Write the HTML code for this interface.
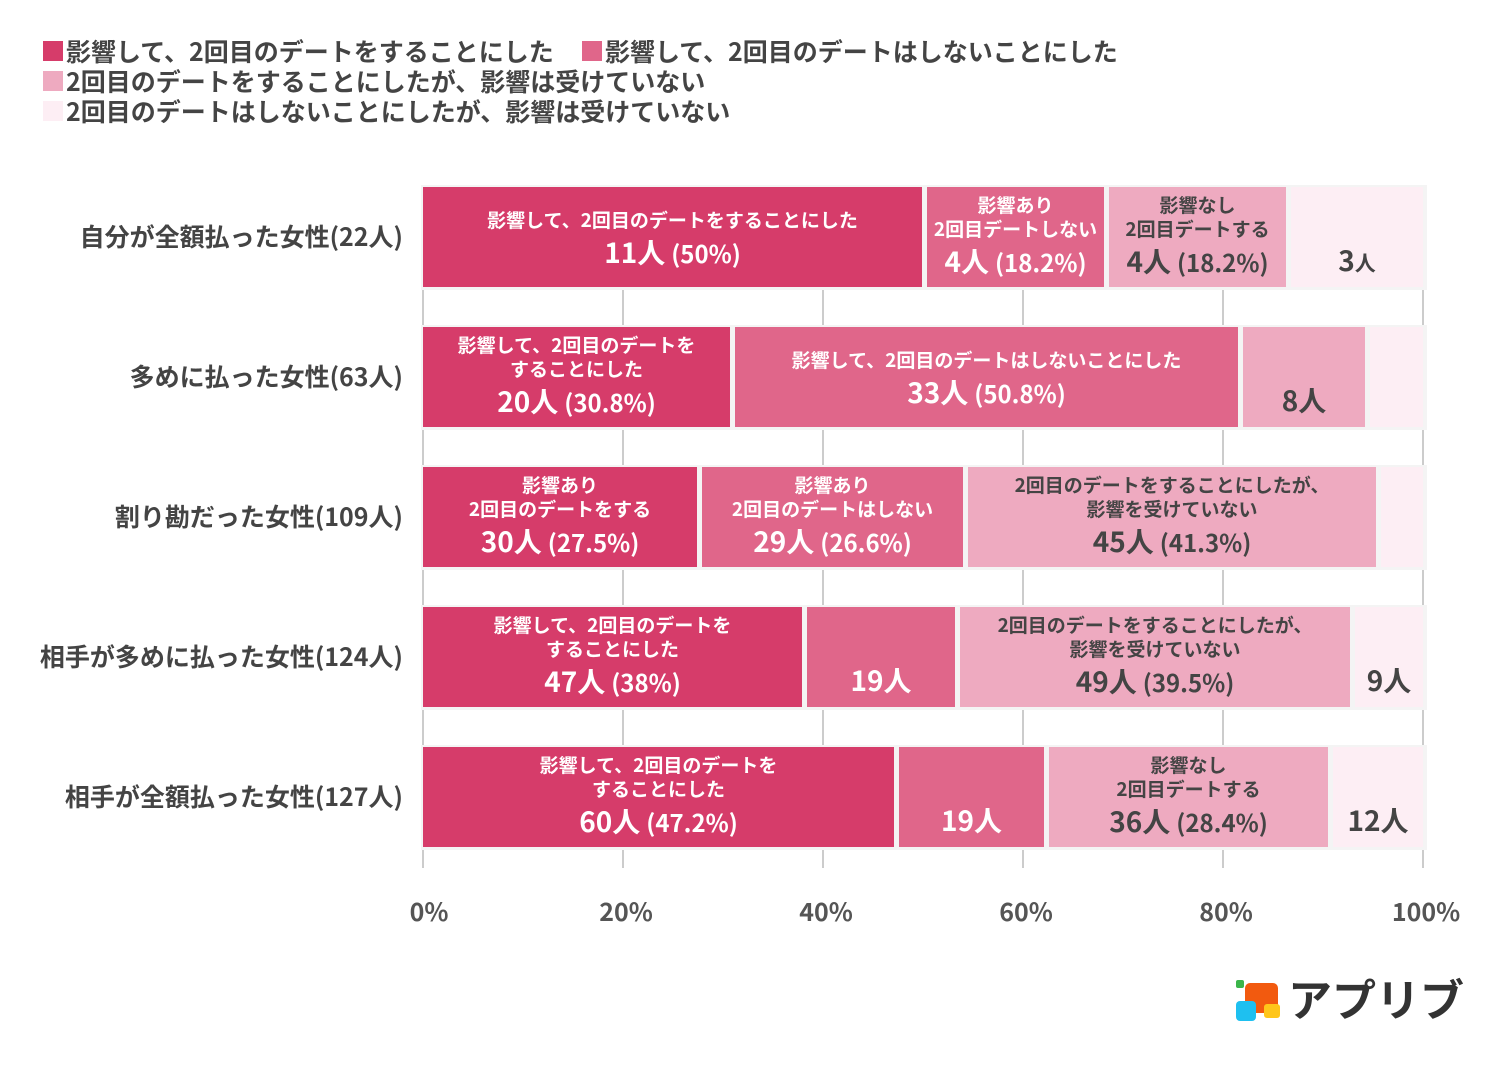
<!DOCTYPE html>
<html><head><meta charset="utf-8">
<style>
body{margin:0;background:#fff;}
svg text{font-family:"Noto Sans CJK JP","Liberation Sans",sans-serif;font-weight:bold;}
</style></head>
<body>
<svg id="chart" width="1508" height="1063" viewBox="0 0 1508 1063" xmlns="http://www.w3.org/2000/svg">
<g>
 <g><rect x="43" y="41" width="20" height="20" fill="#d63c6a"/><text x="66" y="61" font-size="25" fill="#444">影響して、2回目のデートをすることにした</text></g>
 <g><rect x="582" y="41" width="20" height="20" fill="#e0668a"/><text x="605" y="61" font-size="25" fill="#444">影響して、2回目のデートはしないことにした</text></g>
 <g><rect x="43" y="71" width="20" height="20" fill="#eeaac0"/><text x="66" y="91" font-size="25" fill="#444">2回目のデートをすることにしたが、影響は受けていない</text></g>
 <g><rect x="43" y="101" width="20" height="20" fill="#fdeef4"/><text x="66" y="121" font-size="25" fill="#444">2回目のデートはしないことにしたが、影響は受けていない</text></g>
</g>
<g id="grid"></g>
<g id="bars"></g>
<g id="xaxis"></g>
<g>
 <rect x="1236" y="980" width="8" height="8" rx="2" fill="#3bb54a"/>
 <rect x="1245" y="983" width="33" height="30" rx="5" fill="#f25a0f"/>
 <rect x="1236" y="1001" width="20" height="20" rx="4" fill="#1ec0f0"/>
 <rect x="1264" y="1004" width="16" height="14" rx="3" fill="#ffc61a"/>
 <text x="1288" y="1016" font-size="44" fill="#333">アプリブ</text>
</g>
</svg>
<script>
const categories=["自分が全額払った女性(22人)","多めに払った女性(63人)","割り勘だった女性(109人)","相手が多めに払った女性(124人)","相手が全額払った女性(127人)"];
const s1=[50,30.8,27.5,38,47.2];
const s2=[18.2,50.8,26.6,15.3,15.0];
const s3=[18.2,12.7,41.3,39.5,28.4];
const s4=[13.6,5.7,4.6,7.2,9.4];
const ticks=["0%","20%","40%","60%","80%","100%"];
const tickVals=[0,20,40,60,80,100];
const labels=[
 [[["影響して、2回目のデートをすることにした"],"11人","(50%)"],[["影響あり","2回目デートしない"],"4人","(18.2%)"],[["影響なし","2回目デートする"],"4人","(18.2%)"],[[],"3","人"]],
 [[["影響して、2回目のデートを","することにした"],"20人","(30.8%)"],[["影響して、2回目のデートはしないことにした"],"33人","(50.8%)"],[[],"8人",""],[[],"",""]],
 [[["影響あり","2回目のデートをする"],"30人","(27.5%)"],[["影響あり","2回目のデートはしない"],"29人","(26.6%)"],[["2回目のデートをすることにしたが、","影響を受けていない"],"45人","(41.3%)"],[[],"",""]],
 [[["影響して、2回目のデートを","することにした"],"47人","(38%)"],[[],"19人",""],[["2回目のデートをすることにしたが、","影響を受けていない"],"49人","(39.5%)"],[[],"9人",""]],
 [[["影響して、2回目のデートを","することにした"],"60人","(47.2%)"],[[],"19人",""],[["影響なし","2回目デートする"],"36人","(28.4%)"],[[],"12人",""]]
];
const colors=["#d63c6a","#e0668a","#eeaac0","#fdeef4"];
const textCol=["#fff","#fff","#444","#444"];
const NS="http://www.w3.org/2000/svg";
const x0=423,x1=1423,barTop=187,step=140,barH=100;
const xs=v=>x0+(x1-x0)*v/100;
const ys=i=>barTop+i*step;
function mk(t,a,p){const e=document.createElementNS(NS,t);for(const k in a)e.setAttribute(k,a[k]);p.appendChild(e);return e;}
const grid=document.getElementById('grid'),bars=document.getElementById('bars'),xaxis=document.getElementById('xaxis');
tickVals.forEach((v,i)=>{
 const l=mk('line',{x1:xs(v),x2:xs(v),y1:185,y2:868,stroke:'#aaa','stroke-width':1.2},grid);
 
 
 const t=mk('text',{x:xs(v)+(i==0?6:3),y:921,'font-size':25,fill:'#555','text-anchor':'middle'},xaxis);
 t.textContent=ticks[i];
 
 
});
const series=[s1,s2,s3,s4];
categories.forEach((c,i)=>{
 const y=ys(i);
 const g=mk('g',{},bars);
 
 
 mk('rect',{x:x0-2,y:y-2,width:x1-x0+6,height:barH+5,fill:'#f4f4f4'},g);
 const ct=mk('text',{x:403,y:y+barH/2+9,'font-size':25,fill:'#444','text-anchor':'end'},g);
 ct.textContent=c;
 
 
 let acc=0;
 series.forEach((s,k)=>{
  const v=s[i];
  const a=xs(acc)+(k>0?4:0);
  const b=k<3?xs(acc+v)-1:xs(acc+v);
  acc+=v;
  const r=mk('rect',{x:a,y:y,width:Math.max(0,b-a),height:barH,fill:colors[k]},g);
  
  
  const lab=labels[i][k];const cx=(a+b)/2;
  const small=lab[0];
  let bigY, smallYs;
  if(small.length==2){smallYs=[y+25,y+49];bigY=y+85;}
  else if(small.length==1){smallYs=[y+40];bigY=y+76;}
  else {smallYs=[];bigY=y+84;}
  small.forEach((ln,j)=>{
   const t=mk('text',{x:cx,y:smallYs[j],'font-size':19,fill:textCol[k],'text-anchor':'middle'},g);
   t.textContent=ln;
   
   
  });
  if(lab[1]||lab[2]){
   const t=mk('text',{x:cx,y:bigY,'font-size':28,fill:textCol[k],'text-anchor':'middle'},g);
   
   
   const t1=mk('tspan',{},t);t1.textContent=lab[1];
   if(lab[2]){const t2=mk('tspan',{'font-size':lab[2]=="人"?21:24,dx:lab[2]=="人"?0:6},t);t2.textContent=lab[2];}
  }
 });
});
</script>
</body></html>
